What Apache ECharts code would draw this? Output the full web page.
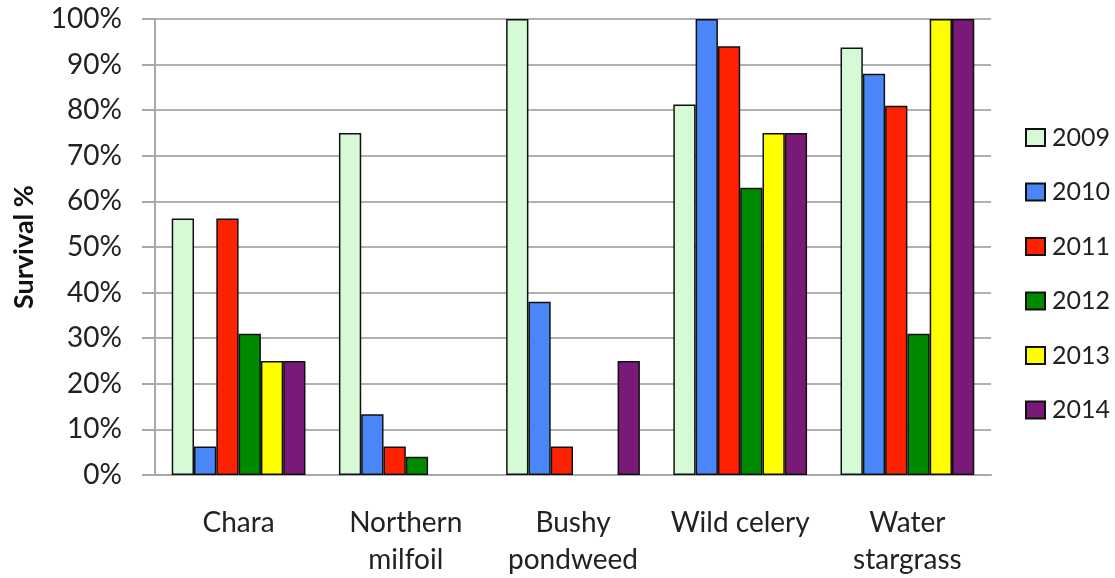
<!DOCTYPE html>
<html>
<head>
<meta charset="utf-8">
<script src="https://cdn.jsdelivr.net/npm/echarts@6/dist/echarts.min.js"></script>
<style>
  html, body { margin: 0; padding: 0; background: #fff; }
  #chart { width: 1115px; height: 578px; }
</style>
</head>
<body>
<div id="chart"></div>
<script>
// Species planted and survival (%) by year; null = no planting that year
const species = ['Chara', 'Northern\nmilfoil', 'Bushy\npondweed', 'Wild celery', 'Water\nstargrass'];
const years = ['2009', '2010', '2011', '2012', '2013', '2014'];
const s2009 = [56.25, 75, 100, 81.25, 93.75];
const s2010 = [6.25, 13.3, 38, 100, 88];
const s2011 = [56.25, 6.25, 6.25, 94, 81];
const s2012 = [31, 4, null, 63, 31];
const s2013 = [25, null, null, 75, 100];
const s2014 = [25, null, 25, 75, 100];
const yTicks = [0, 10, 20, 30, 40, 50, 60, 70, 80, 90, 100];

const seriesValues = [s2009, s2010, s2011, s2012, s2013, s2014];
const colors = ['#d6fad6', '#4a86f7', '#ff2200', '#008a00', '#ffff00', '#7a1a78'];
const FONT = 'Lato';

const chart = echarts.init(document.getElementById('chart'), null, { renderer: 'canvas' });
chart.setOption({
  animation: false,
  backgroundColor: '#ffffff',
  textStyle: { fontFamily: FONT },
  grid: { left: 155, right: 124, top: 19, bottom: 98, containLabel: false },
  legend: {
    orient: 'vertical',
    left: 1020,
    top: 120,
    itemWidth: 19,
    itemHeight: 17,
    itemGap: 29.5,
    icon: 'rect',
    textStyle: { fontFamily: FONT, fontSize: 25, lineHeight: 25, color: '#222', padding: [0, 0, 0, 2] },
    data: years
  },
  xAxis: {
    type: 'category',
    data: species,
    axisLine: { show: true, lineStyle: { color: '#a8a8a8', width: 2 } },
    axisTick: { show: false },
    axisLabel: { fontFamily: FONT, fontSize: 28, color: '#222', margin: 29, lineHeight: 37, interval: 0 }
  },
  yAxis: {
    type: 'value',
    min: 0,
    max: 100,
    interval: 10,
    name: 'Survival %',
    nameLocation: 'middle',
    nameGap: 117,
    nameRotate: 90,
    nameTextStyle: { fontFamily: FONT, fontSize: 27, fontWeight: 'bold', color: '#111' },
    axisLine: { show: true, lineStyle: { color: '#a8a8a8', width: 2 } },
    axisTick: { show: true, inside: false, length: 13, lineStyle: { color: '#a8a8a8', width: 2 } },
    splitLine: { show: true, lineStyle: { color: '#b0b0b0', width: 2 } },
    axisLabel: {
      fontFamily: FONT, fontSize: 28, color: '#222', margin: 33,
      formatter: v => (yTicks.includes(v) ? v + '%' : '')
    }
  },
  series: years.map((y, i) => ({
    name: y,
    type: 'bar',
    data: seriesValues[i],
    barGap: '0%',
    barCategoryGap: '20%',
    itemStyle: { color: colors[i], borderColor: '#111', borderWidth: 1.5 }
  }))
});
</script>
</body>
</html>
